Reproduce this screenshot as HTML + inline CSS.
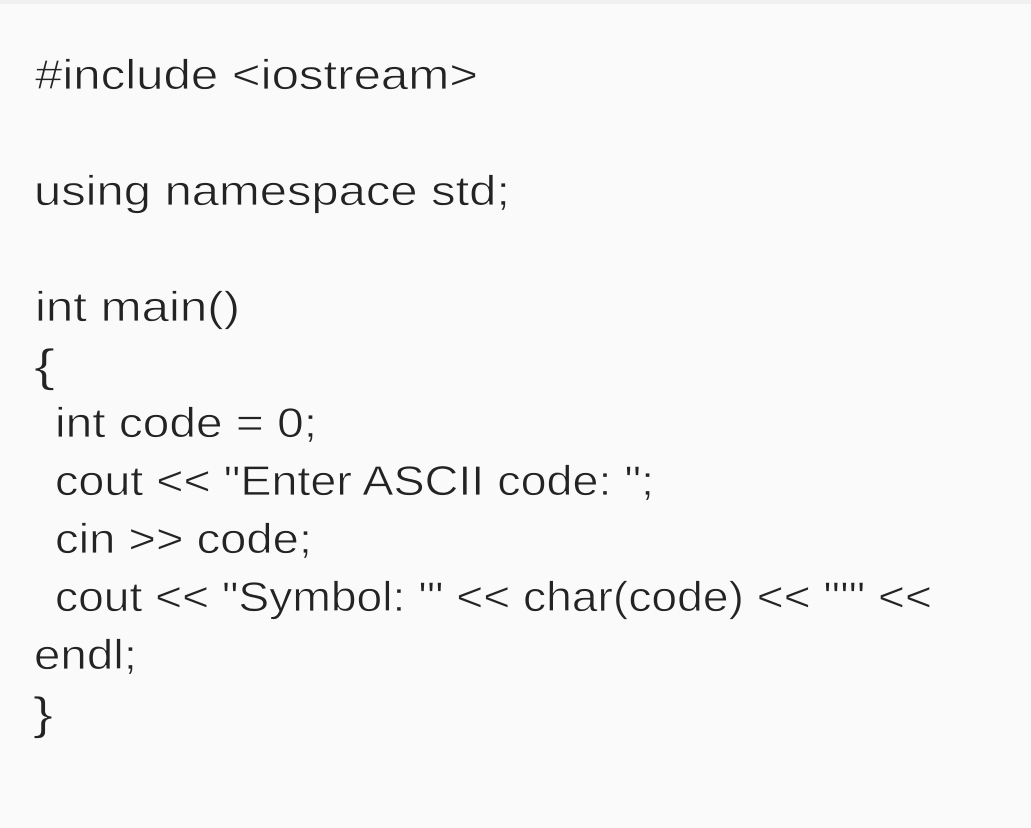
<!DOCTYPE html>
<html>
<head>
<meta charset="utf-8">
<style>
  html, body { margin: 0; padding: 0; }
  body { width: 1031px; height: 828px; background: #fafafa; overflow: hidden; position: relative; }
  .topstrip { position: absolute; left: 0; top: 0; width: 1031px; height: 4px; background: #f1f1f1; }
  svg { position: absolute; left: 0; top: 0; }
  text { font-family: "Liberation Sans", "DejaVu Sans", sans-serif; font-size: 41.5px; fill: #232323; stroke: #fafafa; stroke-width: 0.7px; }
</style>
</head>
<body>
<div class="topstrip"></div>
<svg width="1031" height="828" viewBox="0 0 1031 828" xmlns="http://www.w3.org/2000/svg">
  <text x="35" y="89" textLength="443" lengthAdjust="spacingAndGlyphs">#include &lt;iostream&gt;</text>
  <text x="34" y="205" textLength="476" lengthAdjust="spacingAndGlyphs">using namespace std;</text>
  <text x="35" y="321" textLength="205" lengthAdjust="spacingAndGlyphs">int main()</text>
  <text x="34" y="381" textLength="21" lengthAdjust="spacingAndGlyphs" transform="translate(0,-38) scale(1,1.1)">{</text>
  <text x="55" y="437" textLength="262" lengthAdjust="spacingAndGlyphs">int code = 0;</text>
  <text x="55" y="495" textLength="599" lengthAdjust="spacingAndGlyphs">cout &lt;&lt; "Enter ASCII code: ";</text>
  <text x="55" y="553" textLength="257" lengthAdjust="spacingAndGlyphs">cin &gt;&gt; code;</text>
  <text x="55" y="611" textLength="877" lengthAdjust="spacingAndGlyphs">cout &lt;&lt; "Symbol: '" &lt;&lt; char(code) &lt;&lt; "'" &lt;&lt;</text>
  <text x="34" y="669" textLength="103" lengthAdjust="spacingAndGlyphs">endl;</text>
  <text x="33" y="729" textLength="20" lengthAdjust="spacingAndGlyphs" transform="translate(0,-73) scale(1,1.1)">}</text>
</svg>
</body>
</html>
